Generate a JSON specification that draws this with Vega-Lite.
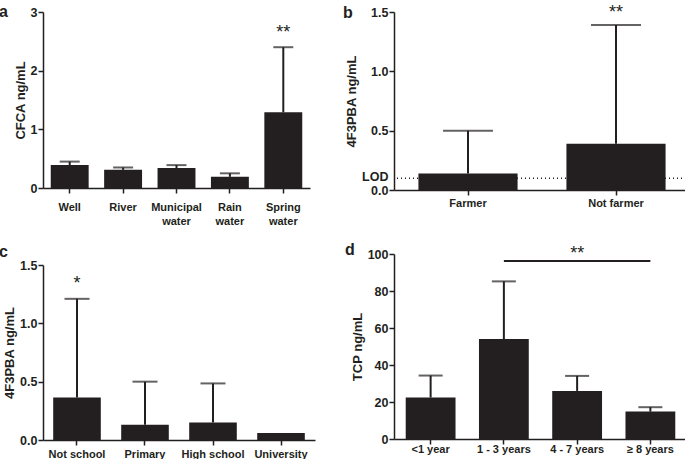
{
  "$schema": "https://vega.github.io/schema/vega-lite/v6.json",
  "padding": {"left": -1, "top": 3, "right": 0, "bottom": 0},
  "spacing": 28,
  "hconcat": [
    {
      "spacing": 18,
      "vconcat": [
        {
          "width": 267, "height": 176,
          "title": {"text": "a", "dx": -44, "dy": 14, "offset": 0},
          "data": {"values": [
            {"g": "Well", "mean": 0.39, "upper": 0.45},
            {"g": "River", "mean": 0.31, "upper": 0.35},
            {"g": "Municipal water", "mean": 0.34, "upper": 0.39},
            {"g": "Rain water", "mean": 0.19, "upper": 0.25},
            {"g": "Spring water", "mean": 1.29, "upper": 2.40}
          ]},
          "layer": [
            {"mark": {"type": "bar", "color": "#231f20"},
             "encoding": {
               "x": {"field": "g", "type": "nominal", "sort": null,
                     "scale": {"paddingInner": 0.29, "paddingOuter": 0.145},
                     "axis": {"title": null, "labelExpr": "split(datum.label, ' ')", "labelLineHeight": 14, "labelPadding": 8}},
               "y": {"field": "mean", "type": "quantitative",
                     "scale": {"domain": [0, 3], "nice": false},
                     "axis": {"title": "CFCA ng/mL", "values": [0, 1, 2, 3], "tickCount": 4, "format": "d", "labelOverlap": false}}}},
            {"mark": {"type": "rule", "color": "#231f20", "strokeWidth": 2},
             "encoding": {"x": {"field": "g", "type": "nominal", "sort": null}, "y": {"field": "mean", "type": "quantitative"}, "y2": {"field": "upper"}}},
            {"mark": {"type": "tick", "color": "#231f20", "thickness": 2, "size": 20},
             "encoding": {"x": {"field": "g", "type": "nominal", "sort": null}, "y": {"field": "upper", "type": "quantitative"}}},
            {"data": {"values": [{"g": "Spring water", "y": 2.64, "t": "**"}]},
             "mark": {"type": "text", "fontSize": 18, "color": "#231f20", "baseline": "middle"},
             "encoding": {"x": {"field": "g", "type": "nominal", "sort": null}, "y": {"field": "y", "type": "quantitative"}, "text": {"field": "t"}}}
          ]
        },
        {
          "width": 272, "height": 175,
          "title": {"text": "c", "dx": -44, "dy": 11, "offset": 10},
          "data": {"values": [
            {"g": "Not school", "mean": 0.365, "upper": 1.21},
            {"g": "Primary", "mean": 0.13, "upper": 0.50},
            {"g": "High school", "mean": 0.15, "upper": 0.485},
            {"g": "University", "mean": 0.06, "upper": null}
          ]},
          "layer": [
            {"mark": {"type": "bar", "color": "#231f20"},
             "encoding": {
               "x": {"field": "g", "type": "nominal", "sort": null,
                     "scale": {"paddingInner": 0.3, "paddingOuter": 0.15},
                     "axis": {"title": null, "labelPadding": 3}},
               "y": {"field": "mean", "type": "quantitative",
                     "scale": {"domain": [0, 1.5], "nice": false},
                     "axis": {"title": "4F3PBA ng/mL", "values": [0, 0.5, 1, 1.5], "tickCount": 4, "format": ".1f", "labelOverlap": false}}}},
            {"transform": [{"filter": "datum.upper != null"}],
             "mark": {"type": "rule", "color": "#231f20", "strokeWidth": 2},
             "encoding": {"x": {"field": "g", "type": "nominal", "sort": null}, "y": {"field": "mean", "type": "quantitative"}, "y2": {"field": "upper"}}},
            {"transform": [{"filter": "datum.upper != null"}],
             "mark": {"type": "tick", "color": "#231f20", "thickness": 2, "size": 25},
             "encoding": {"x": {"field": "g", "type": "nominal", "sort": null}, "y": {"field": "upper", "type": "quantitative"}}},
            {"data": {"values": [{"g": "Not school", "y": 1.335, "t": "*"}]},
             "mark": {"type": "text", "fontSize": 18, "color": "#231f20", "baseline": "middle"},
             "encoding": {"x": {"field": "g", "type": "nominal", "sort": null}, "y": {"field": "y", "type": "quantitative"}, "text": {"field": "t"}}}
          ]
        }
      ]
    },
    {
      "spacing": 34,
      "vconcat": [
        {
          "width": 296, "height": 178,
          "title": {"text": "b", "dx": -51, "dy": 17, "offset": 0},
          "data": {"values": [
            {"g": "Farmer", "mean": 0.14, "upper": 0.50},
            {"g": "Not farmer", "mean": 0.39, "upper": 1.39}
          ]},
          "layer": [
            {"mark": {"type": "bar", "color": "#231f20"},
             "encoding": {
               "x": {"field": "g", "type": "nominal", "sort": null,
                     "scale": {"paddingInner": 0.33, "paddingOuter": 0.165},
                     "axis": {"title": null, "labelPadding": 2}},
               "y": {"field": "mean", "type": "quantitative",
                     "scale": {"domain": [0, 1.5], "nice": false},
                     "axis": {"title": "4F3PBA ng/mL", "values": [0, 0.1, 0.5, 1, 1.5], "tickCount": 5,
                              "labelOverlap": false,
                              "labelExpr": "datum.value == 0.1 ? 'LOD' : format(datum.value, '.1f')",
                              "labelOffset": {"condition": {"test": "datum.value == 0.1", "value": -2}, "value": 0},
                              "tickOpacity": {"condition": {"test": "datum.value == 0.1", "value": 0}, "value": 1}}}}},
            {"mark": {"type": "rule", "color": "#231f20", "strokeWidth": 2},
             "encoding": {"x": {"field": "g", "type": "nominal", "sort": null}, "y": {"field": "mean", "type": "quantitative"}, "y2": {"field": "upper"}}},
            {"mark": {"type": "tick", "color": "#231f20", "thickness": 2, "size": 50},
             "encoding": {"x": {"field": "g", "type": "nominal", "sort": null}, "y": {"field": "upper", "type": "quantitative"}}},
            {"data": {"values": [{"lod": 0.1}]},
             "mark": {"type": "rule", "color": "#231f20", "strokeWidth": 1.5, "strokeDash": [1, 3]},
             "encoding": {"y": {"field": "lod", "type": "quantitative"}}},
            {"data": {"values": [{"g": "Not farmer", "y": 1.495, "t": "**"}]},
             "mark": {"type": "text", "fontSize": 18, "color": "#231f20", "baseline": "middle"},
             "encoding": {"x": {"field": "g", "type": "nominal", "sort": null}, "y": {"field": "y", "type": "quantitative"}, "text": {"field": "t"}}}
          ]
        },
        {
          "width": 293, "height": 185,
          "title": {"text": "d", "dx": -49, "dy": 14, "offset": 1},
          "data": {"values": [
            {"g": "<1 year", "mean": 22.4, "upper": 34.3},
            {"g": "1 - 3 years", "mean": 54.0, "upper": 85.2},
            {"g": "4 - 7 years", "mean": 26.0, "upper": 34.1},
            {"g": "≥ 8 years", "mean": 14.8, "upper": 17.2}
          ]},
          "layer": [
            {"mark": {"type": "bar", "color": "#231f20"},
             "encoding": {
               "x": {"field": "g", "type": "nominal", "sort": null,
                     "scale": {"paddingInner": 0.32, "paddingOuter": 0.16},
                     "axis": {"title": null, "labelPadding": -1}},
               "y": {"field": "mean", "type": "quantitative",
                     "scale": {"domain": [0, 100], "nice": false},
                     "axis": {"title": "TCP ng/mL", "values": [0, 20, 40, 60, 80, 100], "tickCount": 6, "labelOverlap": false}}}},
            {"mark": {"type": "rule", "color": "#231f20", "strokeWidth": 2},
             "encoding": {"x": {"field": "g", "type": "nominal", "sort": null}, "y": {"field": "mean", "type": "quantitative"}, "y2": {"field": "upper"}}},
            {"mark": {"type": "tick", "color": "#231f20", "thickness": 2, "size": 24},
             "encoding": {"x": {"field": "g", "type": "nominal", "sort": null}, "y": {"field": "upper", "type": "quantitative"}}},
            {"data": {"values": [{"g": "1 - 3 years", "g2": "≥ 8 years", "y": 96.2}]},
             "mark": {"type": "rule", "color": "#231f20", "strokeWidth": 2},
             "encoding": {"x": {"field": "g", "type": "nominal", "sort": null}, "x2": {"field": "g2"}, "y": {"field": "y", "type": "quantitative"}}},
            {"data": {"values": [{"g": "4 - 7 years", "y": 99.9, "t": "**"}]},
             "mark": {"type": "text", "fontSize": 18, "color": "#231f20", "baseline": "middle"},
             "encoding": {"x": {"field": "g", "type": "nominal", "sort": null}, "y": {"field": "y", "type": "quantitative"}, "text": {"field": "t"}}}
          ]
        }
      ]
    }
  ],
  "config": {
    "font": "Liberation Sans",
    "view": {"stroke": null},
    "axis": {
      "domainColor": "#231f20", "domainWidth": 1.5,
      "tickColor": "#231f20", "tickWidth": 1.5, "tickSize": 5,
      "labelColor": "#231f20", "labelFont": "Liberation Sans", "labelFontWeight": "bold",
      "labelOverlap": false,
      "titleFont": "Liberation Sans", "titleFontWeight": "bold", "titleColor": "#231f20", "titleFontSize": 13,
      "grid": false
    },
    "axisX": {"labelFontSize": 11, "labelAngle": 0},
    "axisY": {"labelFontSize": 12.5, "labelPadding": 1, "titlePadding": 3},
    "title": {"fontSize": 16, "fontWeight": "bold", "anchor": "start", "frame": "group", "color": "#231f20", "font": "Liberation Sans"}
  }
}
